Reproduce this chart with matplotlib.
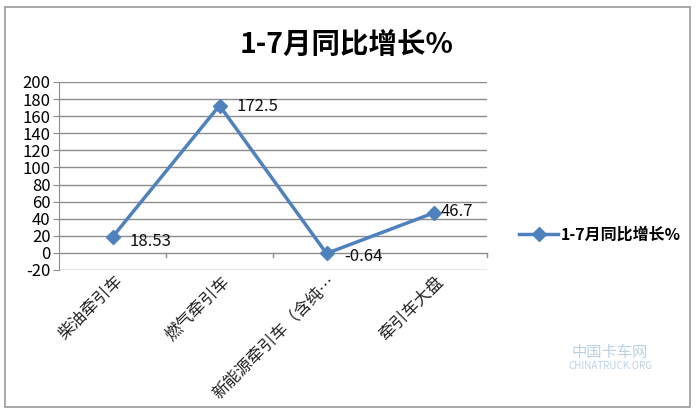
import matplotlib
matplotlib.use("Agg")
import matplotlib.pyplot as plt
from matplotlib.patches import Rectangle
from matplotlib.lines import Line2D

plt.rcParams['font.family'] = ['Noto Sans CJK SC', 'DejaVu Sans']

categories = ["柴油牵引车", "燃气牵引车", "新能源牵引车（含纯…", "牵引车大盘"]
values = [18.53, 172.5, -0.64, 46.7]
value_labels = ["18.53", "172.5", "-0.64", "46.7"]
series_name = "1-7月同比增长%"
title = "1-7月同比增长%"
yticks = [-20, 0, 20, 40, 60, 80, 100, 120, 140, 160, 180, 200]

line_color = "#4F81BD"
grid_color = "#8C8C8C"

fig = plt.figure(figsize=(7.0, 4.12), dpi=100)
fig.patch.set_facecolor("white")
# outer chart border
fig.add_artist(Rectangle((5/700, 5/412), 685/700, 400/412, transform=fig.transFigure,
                         fill=False, edgecolor="#9A9A9A", linewidth=1.2))

ax = fig.add_axes([59/700, 1-270/412, 428/700, 188/412])
x = list(range(len(categories)))
ax.plot(x, values, color=line_color, linewidth=2.5, marker="D", markersize=7.5,
        markerfacecolor=line_color, markeredgecolor=line_color, zorder=3)

ax.set_xlim(-0.5, len(categories) - 0.5)
ax.set_ylim(-20, 200)
ax.set_yticks(yticks)
ax.set_yticklabels([str(v) for v in yticks], fontsize=12)
for v in yticks:
    ax.axhline(v, color=grid_color, linewidth=1.0, zorder=1)

for s in ["top", "right", "bottom"]:
    ax.spines[s].set_visible(False)
ax.spines["left"].set_color(grid_color)
ax.tick_params(axis="y", length=4, color=grid_color, pad=2)
ax.tick_params(axis="x", length=0)
ax.set_xticks([])

# category boundary tick marks on the zero line
for b in [0.5, 1.5, 2.5, 3.5]:
    ax.plot([b, b], [0, -5], color=grid_color, linewidth=1.0, clip_on=False, zorder=1)

# rotated category labels
for i, c in enumerate(categories):
    ax.annotate(c, xy=(i, -20), xycoords="data", xytext=(1, -2), textcoords="offset points",
                rotation=45, ha="right", va="top", rotation_mode="anchor", fontsize=12,
                color="#222222")

# data labels
offsets = [(12, -3), (12, -1), (13, -2), (5, 1)]
for i, (v, lab) in enumerate(zip(values, value_labels)):
    ax.annotate(lab, xy=(i, v), xytext=offsets[i], textcoords="offset points",
                ha="left", va="center", fontsize=12, color="#111111")

fig.text(347/700, 1-45/412, title, ha="center", va="center", fontsize=20.5, fontweight="bold")

# legend
handle = Line2D([0], [0], color=line_color, linewidth=2.5, marker="D", markersize=7.5,
                markerfacecolor=line_color)
fig.legend([handle], [series_name], loc="center left", bbox_to_anchor=(505/700, 1-235/412),
           frameon=False, handlelength=2.4, handletextpad=0.2,
           prop={"weight": "bold", "size": 11.5})

# faint watermark
fig.text(610/700, 1-352/412, "中国卡车网", ha="center", va="center", fontsize=11,
         color="#8FB3CF", alpha=0.6)
fig.text(610/700, 1-366/412, "CHINATRUCK.ORG", ha="center", va="center", fontsize=7,
         color="#8FB3CF", alpha=0.6)

fig.savefig("out.png", dpi=100)
